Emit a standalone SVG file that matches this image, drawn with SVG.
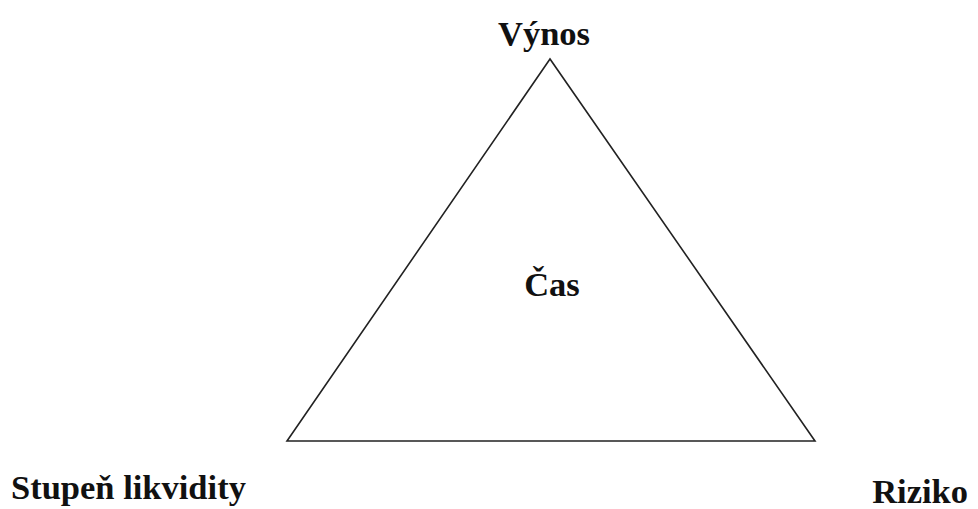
<svg xmlns="http://www.w3.org/2000/svg" width="978" height="509" viewBox="0 0 978 509">
<style>
.lbl{font-family:"Liberation Serif","Times New Roman",serif;font-weight:bold;font-size:34.5px;fill:#111}
.edge{fill:none;stroke:#222;stroke-width:1.6;stroke-linejoin:miter}
</style>
<rect width="978" height="509" fill="#fff"/>
<g id="connectors">
<polygon class="edge" points="550,59 287,441 815,441"/>
</g>
<g id="vynos"><text class="lbl" x="544" y="45" text-anchor="middle">Výnos</text></g>
<g id="cas"><text class="lbl" x="552" y="296" text-anchor="middle">Čas</text></g>
<g id="likvidita"><text class="lbl" x="11" y="499">Stupeň likvidity</text></g>
<g id="riziko"><text class="lbl" x="968" y="503" text-anchor="end">Riziko</text></g>
</svg>
